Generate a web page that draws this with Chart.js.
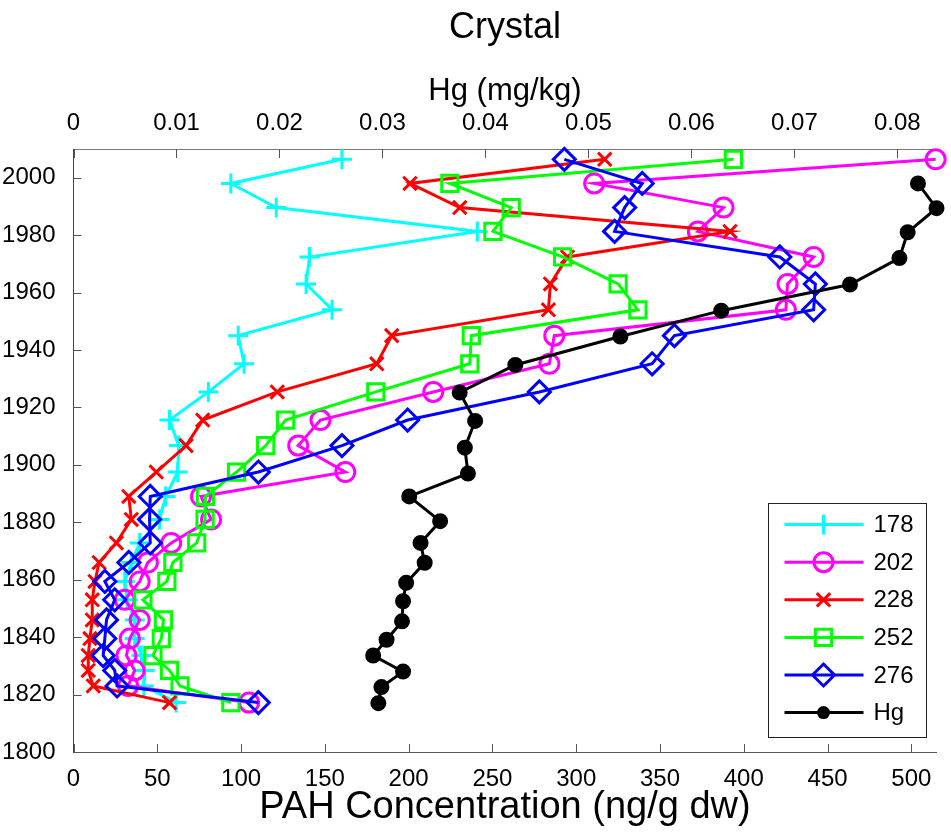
<!DOCTYPE html>
<html><head><meta charset="utf-8">
<script src="https://cdn.jsdelivr.net/npm/chart.js@4.4.0/dist/chart.umd.min.js"></script>
<style>html,body{margin:0;padding:0;background:#fff}#wrap{width:951px;height:835px}</style>
</head><body><div id="wrap"><canvas id="c" width="951" height="835"></canvas></div>
<script>
// Depth-dated core sections (year)
const years = [2006.4, 1998, 1989.6, 1981.3, 1972.4, 1963, 1954, 1945, 1935.2, 1925.4, 1915.6, 1906.7, 1897.5, 1889, 1881, 1872.8, 1866, 1859.4, 1853, 1846, 1839.5, 1833.6, 1828.4, 1823, 1817.2];
const hgYears = [1998, 1989.4, 1981, 1972, 1962.8, 1953.7, 1944.7, 1934.8, 1925.2, 1915.3, 1906, 1897, 1889, 1880.4, 1872.8, 1865.9, 1858.9, 1852.5, 1845.5, 1839.1, 1833.6, 1828, 1822.6, 1817];
// PAH concentrations (ng/g dw) by molecular weight
const pah178 = [160.2, 93.9, 121, 241, 140.8, 138.8, 154.3, 98.3, 101.8, 80.5, 57.3, 62.8, 62.2, 55, 51.4, 39.5, 34.6, 30.6, 32, 36.5, 36.5, 40.5, 42.5, 42, 61.3];
const pah202 = [514.5, 310.7, 387.9, 372.6, 441.7, 426.1, 425.1, 286.9, 284, 214.7, 147.4, 134.1, 162.2, 76.1, 82.1, 58.3, 44.4, 39.5, 30.6, 39.5, 33.6, 31.6, 36.5, 32.6, 104.8];
const pah228 = [317, 200.8, 230.5, 391.8, 294.8, 284.6, 283.4, 189.9, 181, 121.6, 77.1, 67.2, 49.4, 33, 34.5, 25.6, 15.3, 12.8, 11.2, 11.2, 9.8, 8.8, 8.8, 11.8, 57.3];
const pah252 = [393.8, 224.6, 261.2, 250.3, 291.9, 325, 336.8, 237.4, 236.5, 180.4, 126.6, 114.7, 97.3, 78.7, 78.5, 73.5, 59.3, 55.7, 41.4, 53.7, 52.4, 47.4, 57.3, 63.6, 93.9];
const pah276 = [292.9, 339.4, 328.9, 322.9, 421.5, 442.7, 441.7, 358.6, 345.3, 278, 199.4, 160.2, 110.3, 45.8, 45.4, 45.8, 33, 18.7, 24.6, 19.7, 18.7, 17.7, 24.6, 26, 110.3];
// Hg (mg/kg)
const hg = [0.0820, 0.0838, 0.0810, 0.0802, 0.0754, 0.0629, 0.0531, 0.0429, 0.0375, 0.0390, 0.0380, 0.0383, 0.0326, 0.0356, 0.0337, 0.0341, 0.0323, 0.0320, 0.0319, 0.0304, 0.0291, 0.0320, 0.0299, 0.0296];
const seriesLabels = ['178', '202', '228', '252', '276', 'Hg'];

const FONT = '"Liberation Sans", Arial, Helvetica, sans-serif';
const toPts = (xs, ys) => xs.map((v, i) => ({x: v, y: ys[i]}));

function ds(label, data, color, style, radius, order, axis, fill) {
  return {
    label, data: toPts(data, axis === 'x2' ? hgYears : years),
    xAxisID: axis || 'x', yAxisID: 'y',
    borderColor: color, backgroundColor: color,
    pointBorderColor: color, pointBackgroundColor: fill || 'rgba(0,0,0,0)',
    pointStyle: style, pointRadius: radius, pointHoverRadius: radius,
    pointBorderWidth: 3, borderWidth: 3, showLine: true, tension: 0,
    clip: false, order
  };
}

const datasets = [
  ds(seriesLabels[0], pah178, '#00FFFF', 'cross', 10, 5),
  ds(seriesLabels[1], pah202, '#FF00FF', 'circle', 9.5, 4),
  ds(seriesLabels[2], pah228, '#FF0000', 'crossRot', 9.5, 3),
  ds(seriesLabels[3], pah252, '#00FF00', 'rect', 11.5, 2),
  ds(seriesLabels[4], pah276, '#0000FF', 'rectRot', 11, 1),
  ds(seriesLabels[5], hg, '#000000', 'circle', 6.5, 0, 'x2', '#000000')
];

function marker(ctx, style, r, x, y, color, filled) {
  ctx.save();
  ctx.strokeStyle = color; ctx.fillStyle = color; ctx.lineWidth = 3;
  ctx.beginPath();
  if (style === 'cross') { ctx.moveTo(x - r, y); ctx.lineTo(x + r, y); ctx.moveTo(x, y - r); ctx.lineTo(x, y + r); }
  else if (style === 'crossRot') { const d = r * Math.SQRT1_2; ctx.moveTo(x - d, y - d); ctx.lineTo(x + d, y + d); ctx.moveTo(x + d, y - d); ctx.lineTo(x - d, y + d); }
  else if (style === 'circle') { ctx.arc(x, y, r, 0, Math.PI * 2); }
  else if (style === 'rect') { const s = r * Math.SQRT1_2; ctx.rect(x - s, y - s, 2 * s, 2 * s); }
  else if (style === 'rectRot') { ctx.moveTo(x, y - r); ctx.lineTo(x + r, y); ctx.lineTo(x, y + r); ctx.lineTo(x - r, y); ctx.closePath(); }
  if (filled) ctx.fill(); else ctx.stroke();
  ctx.restore();
}

const innerTicks = {
  id: 'innerTicks',
  afterDraw(chart) {
    const {ctx, chartArea: a} = chart;
    ctx.save();
    ctx.strokeStyle = '#555'; ctx.lineWidth = 1;
    ctx.beginPath();
    const sx = chart.scales.x, sx2 = chart.scales.x2, sy = chart.scales.y;
    sx.ticks.forEach(t => { const p = Math.round(sx.getPixelForValue(t.value)) + 0.5; ctx.moveTo(p, a.bottom); ctx.lineTo(p, a.bottom - 8); });
    sx2.ticks.forEach(t => { const p = Math.round(sx2.getPixelForValue(t.value)) + 0.5; ctx.moveTo(p, a.top); ctx.lineTo(p, a.top + 9); });
    sy.ticks.forEach(t => { const p = Math.round(sy.getPixelForValue(t.value)) + 0.5; ctx.moveTo(a.left, p); ctx.lineTo(a.left + 8, p); });
    ctx.stroke();
    // chart title, centred over the plot area
    ctx.fillStyle = '#000';
    ctx.font = '36px ' + FONT;
    ctx.textAlign = 'center'; ctx.textBaseline = 'middle';
    ctx.fillText('Crystal', (a.left + a.right) / 2, 28);
    ctx.restore();
  }
};

const boxLegend = {
  id: 'boxLegend',
  afterDraw(chart) {
    const {ctx, chartArea: a} = chart;
    const w = 158, h = 234;
    const x0 = a.right - 11 - w, y0 = a.bottom - 15 - h;
    ctx.save();
    ctx.fillStyle = '#fff'; ctx.fillRect(x0, y0, w, h);
    ctx.strokeStyle = '#222'; ctx.lineWidth = 1;
    ctx.strokeRect(Math.round(x0) + 0.5, Math.round(y0) + 0.5, w, h);
    chart.data.datasets.forEach((d, i) => {
      const cy = y0 + 21.6 + i * 37.6;
      ctx.strokeStyle = d.borderColor; ctx.lineWidth = 3;
      ctx.beginPath(); ctx.moveTo(x0 + 17, cy); ctx.lineTo(x0 + 96, cy); ctx.stroke();
      marker(ctx, d.pointStyle, d.pointRadius, x0 + 56, cy, d.borderColor, d.pointBackgroundColor !== 'rgba(0,0,0,0)');
      ctx.fillStyle = '#000'; ctx.font = '24px ' + FONT;
      ctx.textAlign = 'left'; ctx.textBaseline = 'middle';
      ctx.fillText(d.label, x0 + 106, cy + 1);
    });
    ctx.restore();
  }
};

new Chart(document.getElementById('c'), {
  type: 'scatter',
  data: {datasets},
  options: {
    responsive: false, animation: false, devicePixelRatio: 1,
    layout: {padding: {left: 0, right: 11, top: 0, bottom: 0}},
    plugins: {
      legend: {display: false}, tooltip: {enabled: false}, title: {display: false}
    },
    scales: {
      x: {
        type: 'linear', position: 'bottom', min: 0, max: 515,
        ticks: {stepSize: 50, includeBounds: false, padding: 5, color: '#000', font: {family: FONT, size: 24}, maxRotation: 0, autoSkip: false,
          callback: v => String(v)},
        grid: {display: false}, border: {display: true, color: '#555', width: 1},
        title: {display: true, text: 'PAH Concentration (ng/g dw)', color: '#000', font: {family: FONT, size: 38}, padding: {top: 0, bottom: 5}},
        afterFit: s => { s.height = 83; }
      },
      x2: {
        type: 'linear', position: 'top', min: 0, max: 0.0838,
        ticks: {stepSize: 0.01, includeBounds: false, padding: 3, color: '#000', font: {family: FONT, size: 24}, maxRotation: 0, autoSkip: false,
          callback: v => (Math.abs(v) < 1e-9 ? '0' : v.toFixed(2))},
        grid: {display: false}, border: {display: true, color: '#777', width: 1},
        title: {display: true, text: 'Hg (mg/kg)', color: '#000', font: {family: FONT, size: 31}, padding: {top: 72.8, bottom: 0}},
        afterFit: s => { s.height = 149; }
      },
      y: {
        type: 'linear', position: 'left', min: 1800, max: 2010,
        ticks: {stepSize: 20, includeBounds: false, padding: 10, color: '#000', font: {family: FONT, size: 24}, autoSkip: false,
          callback: v => String(v)},
        grid: {display: false}, border: {display: true, color: '#444', width: 1},
        afterFit: s => { s.width = 73.5; }
      }
    }
  },
  plugins: [innerTicks, boxLegend]
});
</script>
</body></html>
